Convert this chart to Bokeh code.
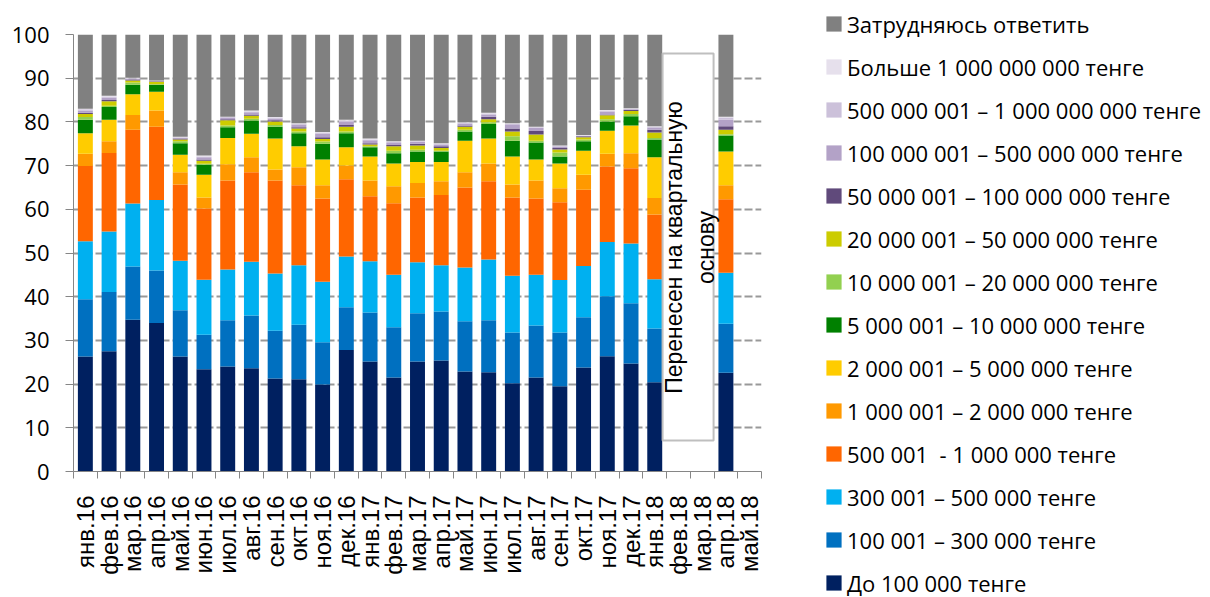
import math
import numpy as np
from bokeh.plotting import figure
from bokeh.models import (ColumnDataSource, Range1d, FixedTicker, Legend, LegendItem,
                          BoxAnnotation, Label)
from bokeh.embed import file_html
from bokeh.resources import INLINE

months = ["янв.16", "фев.16", "мар.16", "апр.16", "май.16", "июн.16", "июл.16", "авг.16",
          "сен.16", "окт.16", "ноя.16", "дек.16", "янв.17", "фев.17", "мар.17", "апр.17",
          "май.17", "июн.17", "июл.17", "авг.17", "сен.17", "окт.17", "ноя.17", "дек.17",
          "янв.18", "фев.18", "мар.18", "апр.18", "май.18"]

series_names = ["До 100 000 тенге", "100 001 – 300 000 тенге", "300 001 – 500 000 тенге",
                "500 001  - 1 000 000 тенге", "1 000 001 – 2 000 000 тенге",
                "2 000 001 – 5 000 000 тенге", "5 000 001 – 10 000 000 тенге",
                "10 000 001 – 20 000 000 тенге", "20 000 001 – 50 000 000 тенге",
                "50 000 001 – 100 000 000 тенге", "100 000 001 – 500 000 000 тенге",
                "500 000 001 – 1 000 000 000 тенге", "Больше 1 000 000 000 тенге",
                "Затрудняюсь ответить"]

s_0_100k = [26.3, 27.5, 34.7, 34.0, 26.3, 23.4, 24.0, 23.6, 21.3, 21.1, 19.9, 27.8, 25.2, 21.5, 25.2, 25.4, 22.9, 22.7, 20.2, 21.5, 19.5, 23.8, 26.4, 24.7, 20.4, None, None, 22.6, None]
s_100k_300k = [13.1, 13.6, 12.2, 12.0, 10.6, 7.9, 10.6, 12.1, 10.9, 12.5, 9.7, 9.8, 11.2, 11.5, 11.0, 11.2, 11.5, 11.9, 11.6, 11.9, 12.3, 11.5, 13.7, 13.8, 12.3, None, None, 11.2, None]
s_300k_500k = [13.3, 13.8, 14.4, 16.1, 11.3, 12.6, 11.6, 12.3, 13.1, 13.6, 13.8, 11.6, 11.7, 12.0, 11.7, 10.6, 12.3, 13.9, 13.0, 11.6, 12.0, 11.7, 12.4, 13.7, 11.3, None, None, 11.7, None]
s_500k_1m = [17.2, 18.0, 16.9, 16.8, 17.5, 16.3, 20.4, 20.5, 21.3, 18.3, 19.1, 17.7, 14.9, 16.4, 14.8, 16.1, 18.3, 17.9, 17.9, 17.5, 17.8, 17.5, 17.3, 17.2, 14.8, None, None, 16.8, None]
s_1m_2m = [2.8, 2.7, 3.4, 3.7, 2.8, 2.5, 3.7, 3.4, 2.5, 4.1, 3.0, 3.1, 3.6, 3.9, 3.3, 3.1, 3.5, 4.1, 3.0, 4.1, 3.2, 3.4, 2.9, 3.4, 3.8, None, None, 3.2, None]
s_2m_5m = [4.7, 4.9, 4.7, 4.3, 4.0, 5.2, 6.0, 5.4, 7.1, 4.8, 5.9, 4.2, 5.5, 5.2, 4.8, 4.4, 7.2, 5.7, 6.4, 4.8, 5.7, 5.5, 5.3, 6.4, 9.3, None, None, 7.7, None]
s_5m_10m = [3.1, 2.9, 2.2, 1.6, 2.6, 2.3, 2.5, 3.0, 2.7, 3.0, 3.6, 3.2, 2.1, 2.3, 2.4, 2.4, 2.1, 3.3, 3.6, 3.9, 1.6, 2.2, 2.1, 2.1, 4.1, None, None, 3.7, None]
s_10m_20m = [0.6, 0.3, 0.5, 0.1, 0.5, 0.2, 0.4, 0.4, 0.4, 0.4, 0.5, 0.4, 0.2, 0.6, 0.4, 0.2, 0.4, 0.4, 1.0, 0.4, 0.9, 0.4, 0.5, 0.5, 0.3, None, None, 0.3, None]
s_20m_50m = [0.7, 1.0, 0.5, 0.6, 0.4, 0.7, 1.2, 0.7, 0.8, 0.7, 0.6, 1.1, 0.4, 1.0, 1.0, 0.6, 0.7, 0.7, 1.1, 1.4, 0.7, 0.5, 0.9, 0.7, 1.3, None, None, 1.0, None]
s_50m_100m = [0.3, 0.3, 0.2, 0.1, 0.2, 0.3, 0.2, 0.3, 0.3, 0.3, 0.4, 0.4, 0.3, 0.3, 0.4, 0.4, 0.3, 0.6, 0.7, 0.8, 0.3, 0.2, 0.2, 0.2, 0.6, None, None, 0.8, None]
s_100m_500m = [0.5, 0.5, 0.2, 0.1, 0.2, 0.5, 0.4, 0.5, 0.4, 0.6, 0.8, 0.7, 0.7, 0.5, 0.5, 0.4, 0.4, 0.5, 0.8, 0.7, 0.3, 0.1, 0.6, 0.2, 0.5, None, None, 1.5, None]
s_500m_1b = [0.3, 0.3, 0.1, 0.1, 0.1, 0.2, 0.1, 0.2, 0.2, 0.2, 0.3, 0.3, 0.2, 0.2, 0.1, 0.2, 0.2, 0.2, 0.2, 0.2, 0.2, 0.1, 0.2, 0.1, 0.2, None, None, 0.5, None]
s_over_1b = [0.1, 0.2, 0.1, 0.0, 0.1, 0.2, 0.1, 0.2, 0.1, 0.1, 0.1, 0.2, 0.2, 0.2, 0.1, 0.1, 0.1, 0.2, 0.2, 0.1, 0.1, 0.1, 0.2, 0.1, 0.1, None, None, 0.2, None]
s_unsure = [17.0, 14.0, 9.9, 10.5, 23.4, 27.7, 18.8, 17.4, 18.9, 20.3, 22.3, 19.5, 23.8, 24.4, 24.3, 24.9, 20.1, 17.9, 20.3, 21.1, 25.4, 23.0, 17.3, 16.9, 21.0, None, None, 18.8, None]

colors = ["#002060", "#0070C0", "#00B0F0", "#FF6600", "#FF9900", "#FFCC00", "#008000",
          "#92D050", "#CCCC00", "#604A7B", "#B3A2C7", "#CCC1DA", "#E6E0EC", "#808080"]

y_ticks = [0, 10, 20, 30, 40, 50, 60, 70, 80, 90, 100]

note_lines = ["Перенесен на квартальную", "основу"]

series = [s_0_100k, s_100k_300k, s_300k_500k, s_500k_1m, s_1m_2m, s_2m_5m, s_5m_10m,
          s_10m_20m, s_20m_50m, s_50m_100m, s_100m_500m, s_500m_1b, s_over_1b, s_unsure]
keys = ["s%d" % i for i in range(len(series))]

x_idx = list(range(len(months)))
data = {"x": x_idx}
for k, s in zip(keys, series):
    data[k] = np.array(s, dtype=float)
source = ColumnDataSource(data)

p = figure(frame_width=688, frame_height=437, output_backend="svg", toolbar_location=None,
           x_range=Range1d(-0.5, len(months) - 0.5), y_range=Range1d(0, 100),
           min_border_left=73, min_border_right=449, min_border_top=34, min_border_bottom=126)
p.outline_line_color = None
p.background_fill_color = "white"
p.border_fill_color = "white"

renderers = p.vbar_stack(keys, x="x", width=0.63, source=source, color=colors,
                         line_color=None)

# Axes
axis_col = "#868686"
yax = p.yaxis[0]
yax.ticker = FixedTicker(ticks=y_ticks)
yax.axis_line_color = axis_col
yax.major_tick_line_color = axis_col
yax.major_tick_out = 8
yax.major_tick_in = 0
yax.minor_tick_line_color = None
yax.major_label_standoff = 16
yax.major_label_text_font = "Open Sans"
yax.major_label_text_font_size = "22px"
yax.major_label_text_color = "black"

xax = p.xaxis[0]
xax.ticker = FixedTicker(ticks=x_idx, minor_ticks=[i - 0.5 for i in range(len(months) + 1)])
xax.major_label_overrides = {i: m for i, m in zip(x_idx, months)}
xax.major_label_orientation = math.pi / 2
xax.axis_line_color = axis_col
xax.major_tick_out = 0
xax.major_tick_in = 0
xax.major_tick_line_color = None
xax.minor_tick_line_color = axis_col
xax.minor_tick_out = 7
xax.minor_tick_in = 0
xax.major_label_standoff = 17
xax.major_label_text_font = "Liberation Sans"
xax.major_label_text_font_size = "24px"
xax.major_label_text_color = "black"

p.xgrid.grid_line_color = None
p.ygrid.ticker = FixedTicker(ticks=y_ticks)
p.ygrid.grid_line_color = "#999999"
p.ygrid.grid_line_width = 2
p.ygrid.grid_line_dash = "8 3"

# Note box
box = BoxAnnotation(left=24.33, right=26.48, bottom=7.1, top=95.65,
                    fill_color="white", fill_alpha=1.0,
                    line_color="#BFBFBF", line_width=2, line_alpha=1.0)
p.add_layout(box)
for xv, t in zip([24.8, 26.14], note_lines):
    p.add_layout(Label(x=xv, y=51.26, text=t, angle=math.pi / 2,
                       text_align="center", text_baseline="middle",
                       text_font="Liberation Sans", text_font_size="23px",
                       text_color="black"))

# Legend
items = [LegendItem(label=n, renderers=[r]) for n, r in zip(series_names, renderers)]
items = items[::-1]
legend = Legend(items=items, location=(63, -126.5), orientation="vertical",
                glyph_width=19, glyph_height=19, label_height=19,
                label_standoff=4, spacing=13, padding=0, margin=0,
                border_line_color=None, background_fill_alpha=0,
                label_text_font="Open Sans", label_text_font_size="22px",
                label_text_color="black")
p.add_layout(legend, "right")

open("out.html", "w").write(file_html(p, INLINE))
